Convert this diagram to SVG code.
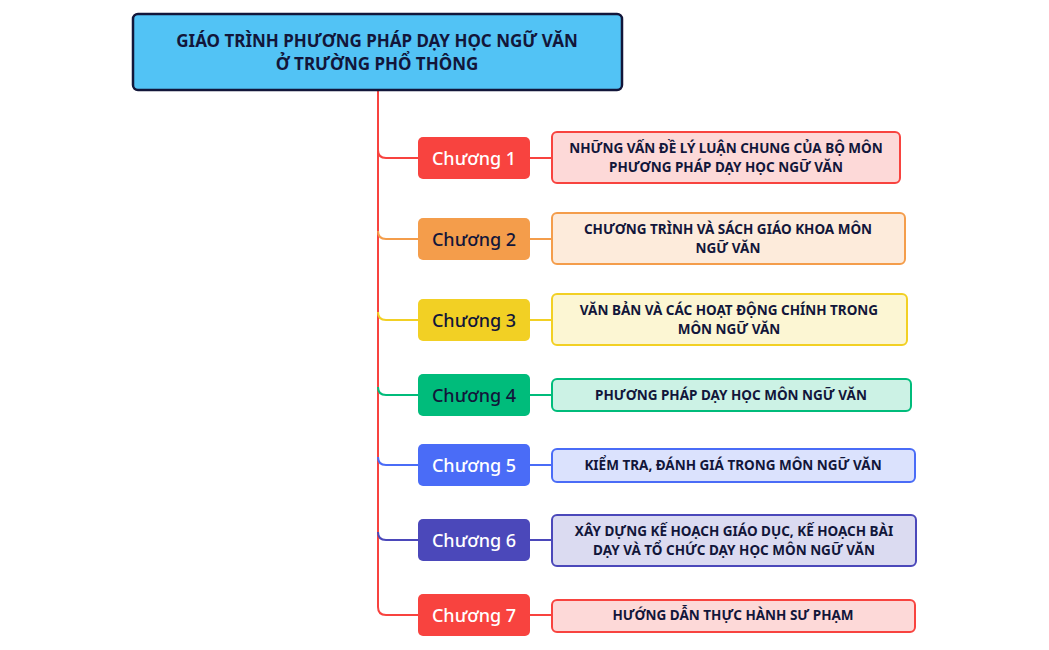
<svg xmlns="http://www.w3.org/2000/svg" width="1049" height="650" viewBox="0 0 1049 650">
<style>
text{font-family:"Noto Sans","Liberation Sans",sans-serif;text-anchor:middle;dominant-baseline:central}
.root{font-size:17px;font-weight:700;fill:#12163a}
.ch{font-size:18px;font-weight:500}
.d{font-size:13.5px;font-weight:700;fill:#12163a}
.c{fill:none;stroke-width:2}
</style>
<rect width="1049" height="650" fill="#fff"/>
<g id="connectors">
<path class="c" stroke="#F8433F" d="M378 90 V607 Q378 615 386 615 H418"/>
<path class="c" stroke="#F8433F" d="M378 150 Q378 158 386 158 H418 M530 158 H552"/>
<path class="c" stroke="#F49D4B" d="M378 231 Q378 239 386 239 H418 M530 239 H552"/>
<path class="c" stroke="#F2D024" d="M378 312 Q378 320 386 320 H418 M530 320 H552"/>
<path class="c" stroke="#00BC7B" d="M378 387 Q378 395 386 395 H418 M530 395 H552"/>
<path class="c" stroke="#4A6CF7" d="M378 457 Q378 465 386 465 H418 M530 465 H552"/>
<path class="c" stroke="#4B48BA" d="M378 532 Q378 540 386 540 H418 M530 540 H552"/>
<path class="c" stroke="#F8433F" d="M530 615 H552"/>
</g>
<g id="root"><rect x="133" y="14" width="489" height="76" rx="5" fill="#52C3F5" stroke="#12163a" stroke-width="2.5"/>
<text class="root" x="377" y="40">GIÁO TRÌNH PHƯƠNG PHÁP DẠY HỌC NGỮ VĂN</text>
<text class="root" x="377" y="63">Ở TRƯỜNG PHỔ THÔNG</text></g>
<g id="ch1"><rect x="418" y="137" width="112" height="42" rx="5" fill="#F8433F"/><text class="ch" x="474" y="158" fill="#fff">Chương 1</text></g>
<g id="d1"><rect x="552" y="132" width="348" height="51" rx="5" fill="#FDD9D8" stroke="#F8433F" stroke-width="2"/><text class="d" x="726" y="148">NHỮNG VẤN ĐỀ LÝ LUẬN CHUNG CỦA BỘ MÔN</text><text class="d" x="726" y="167">PHƯƠNG PHÁP DẠY HỌC NGỮ VĂN</text></g>
<g id="ch2"><rect x="418" y="218" width="112" height="42" rx="5" fill="#F49D4B"/><text class="ch" x="474" y="239" fill="#12163a">Chương 2</text></g>
<g id="d2"><rect x="552" y="213" width="353" height="51" rx="5" fill="#FDEBDB" stroke="#F49D4B" stroke-width="2"/><text class="d" x="728" y="229">CHƯƠNG TRÌNH VÀ SÁCH GIÁO KHOA MÔN</text><text class="d" x="728" y="248">NGỮ VĂN</text></g>
<g id="ch3"><rect x="418" y="299" width="112" height="42" rx="5" fill="#F2D024"/><text class="ch" x="474" y="320" fill="#12163a">Chương 3</text></g>
<g id="d3"><rect x="552" y="294" width="355" height="51" rx="5" fill="#FCF6D3" stroke="#F2D024" stroke-width="2"/><text class="d" x="729" y="310">VĂN BẢN VÀ CÁC HOẠT ĐỘNG CHÍNH TRONG</text><text class="d" x="729" y="329">MÔN NGỮ VĂN</text></g>
<g id="ch4"><rect x="418" y="374" width="112" height="42" rx="5" fill="#00BC7B"/><text class="ch" x="474" y="395" fill="#12163a">Chương 4</text></g>
<g id="d4"><rect x="552" y="379" width="359" height="32" rx="5" fill="#CCF2E5" stroke="#00BC7B" stroke-width="2"/><text class="d" x="731" y="395">PHƯƠNG PHÁP DẠY HỌC MÔN NGỮ VĂN</text></g>
<g id="ch5"><rect x="418" y="444" width="112" height="42" rx="5" fill="#4A6CF7"/><text class="ch" x="474" y="465" fill="#fff">Chương 5</text></g>
<g id="d5"><rect x="552" y="449" width="363" height="33" rx="5" fill="#DBE2FD" stroke="#4A6CF7" stroke-width="2"/><text class="d" x="733" y="465">KIỂM TRA, ĐÁNH GIÁ TRONG MÔN NGỮ VĂN</text></g>
<g id="ch6"><rect x="418" y="519" width="112" height="42" rx="5" fill="#4B48BA"/><text class="ch" x="474" y="540" fill="#fff">Chương 6</text></g>
<g id="d6"><rect x="552" y="515" width="364" height="51" rx="5" fill="#DBDBF1" stroke="#4B48BA" stroke-width="2"/><text class="d" x="734" y="531">XÂY DỰNG KẾ HOẠCH GIÁO DỤC, KẾ HOẠCH BÀI</text><text class="d" x="734" y="550">DẠY VÀ TỔ CHỨC DẠY HỌC MÔN NGỮ VĂN</text></g>
<g id="ch7"><rect x="418" y="594" width="112" height="42" rx="5" fill="#F8433F"/><text class="ch" x="474" y="615" fill="#fff">Chương 7</text></g>
<g id="d7"><rect x="552" y="600" width="363" height="32" rx="5" fill="#FDD9D8" stroke="#F8433F" stroke-width="2"/><text class="d" x="733" y="615">HƯỚNG DẪN THỰC HÀNH SƯ PHẠM</text></g>
</svg>
